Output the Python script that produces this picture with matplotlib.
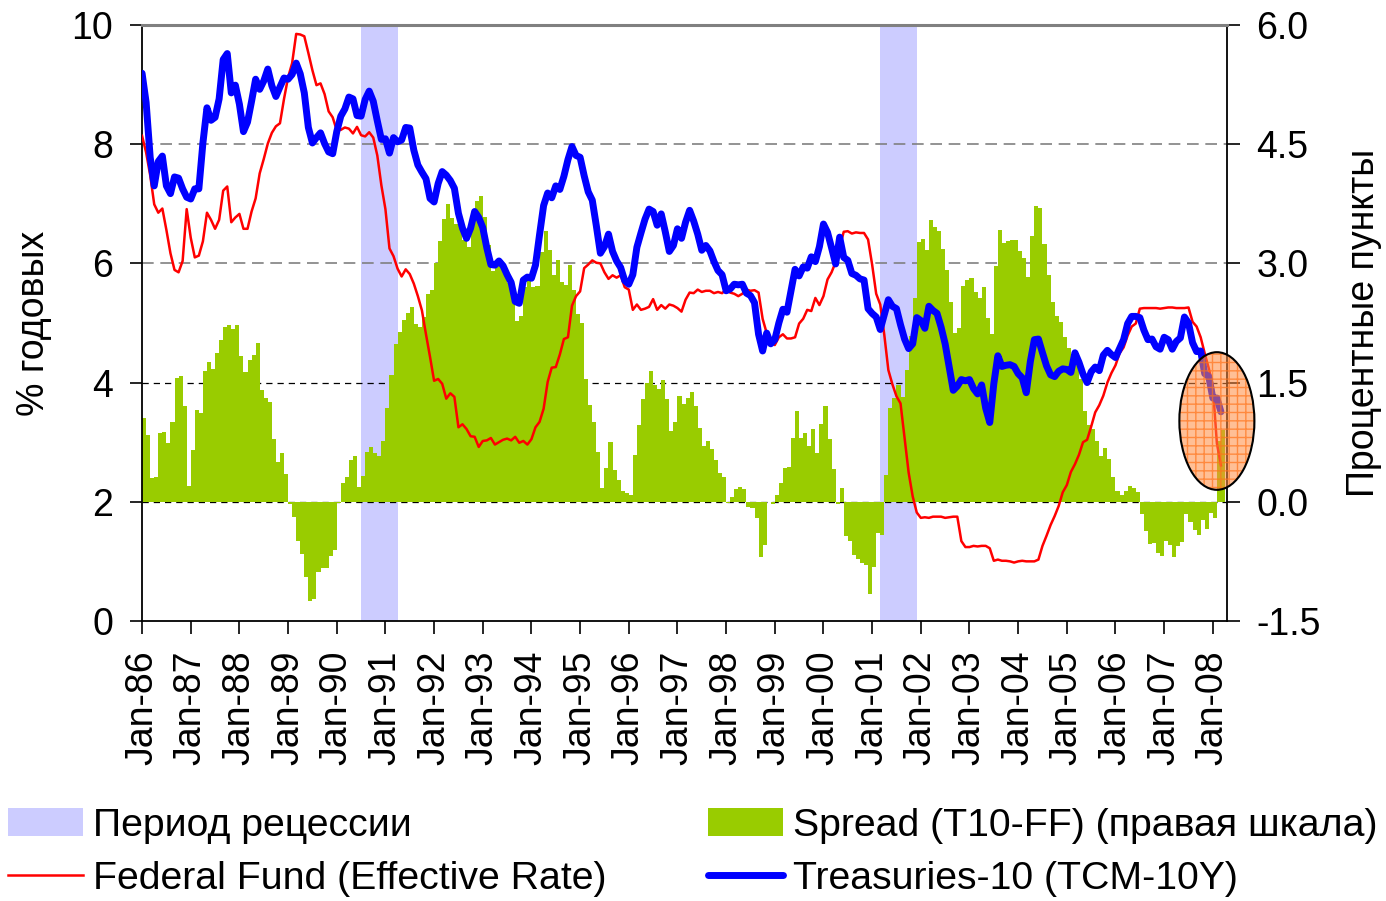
import numpy as np
import matplotlib.pyplot as plt
from matplotlib.patches import Ellipse, Patch
from matplotlib.lines import Line2D

plt.rcParams['font.family'] = ['Liberation Sans', 'DejaVu Sans']

# monthly data, Jan-1986 .. Mar-2008
fed_funds = [
    8.14, 7.86, 7.48, 6.99, 6.85, 6.92, 6.56, 6.17, 5.89, 5.85, 6.04, 6.91,
    6.43, 6.10, 6.13, 6.37, 6.85, 6.73, 6.58, 6.73, 7.22, 7.29, 6.69, 6.77,
    6.83, 6.58, 6.58, 6.87, 7.09, 7.51, 7.75, 8.01, 8.19, 8.30, 8.35, 8.76,
    9.12, 9.36, 9.85, 9.84, 9.81, 9.53, 9.24, 8.99, 9.02, 8.84, 8.55, 8.45,
    8.23, 8.24, 8.28, 8.26, 8.18, 8.29, 8.15, 8.13, 8.20, 8.11, 7.81, 7.31,
    6.91, 6.25, 6.12, 5.91, 5.78, 5.90, 5.82, 5.66, 5.45, 5.21, 4.81, 4.43,
    4.03, 4.06, 3.98, 3.73, 3.82, 3.76, 3.25, 3.30, 3.22, 3.10, 3.09, 2.92,
    3.02, 3.03, 3.07, 2.96, 3.00, 3.04, 3.06, 3.03, 3.09, 2.99, 3.02, 2.96,
    3.05, 3.25, 3.34, 3.56, 4.01, 4.25, 4.26, 4.47, 4.73, 4.76, 5.29, 5.45,
    5.53, 5.92, 5.98, 6.05, 6.01, 6.00, 5.85, 5.74, 5.80, 5.76, 5.80, 5.60,
    5.56, 5.22, 5.31, 5.22, 5.24, 5.27, 5.40, 5.22, 5.30, 5.24, 5.31, 5.29,
    5.25, 5.19, 5.39, 5.51, 5.50, 5.56, 5.52, 5.54, 5.54, 5.50, 5.52, 5.50,
    5.56, 5.51, 5.49, 5.45, 5.49, 5.56, 5.54, 5.55, 5.51, 5.07, 4.83, 4.68,
    4.63, 4.76, 4.81, 4.74, 4.74, 4.76, 4.99, 5.07, 5.22, 5.20, 5.42, 5.30,
    5.45, 5.73, 5.85, 6.02, 6.27, 6.53, 6.54, 6.50, 6.52, 6.51, 6.51, 6.40,
    5.98, 5.49, 5.31, 4.80, 4.21, 3.97, 3.77, 3.65, 3.07, 2.49, 2.09, 1.82,
    1.73, 1.74, 1.73, 1.75, 1.75, 1.75, 1.73, 1.74, 1.75, 1.75, 1.34, 1.24,
    1.24, 1.26, 1.25, 1.26, 1.26, 1.22, 1.01, 1.03, 1.01, 1.01, 1.00, 0.98,
    1.00, 1.01, 1.00, 1.00, 1.00, 1.03, 1.26, 1.43, 1.61, 1.76, 1.93, 2.16,
    2.28, 2.50, 2.63, 2.79, 3.00, 3.04, 3.26, 3.50, 3.62, 3.78, 4.00, 4.16,
    4.29, 4.49, 4.59, 4.79, 4.94, 4.99, 5.24, 5.25, 5.25, 5.25, 5.25, 5.24,
    5.25, 5.26, 5.26, 5.25, 5.25, 5.25, 5.26, 5.02, 4.94, 4.76, 4.49, 4.24,
    3.94, 2.98, 2.61,
]

treasury10 = [
    9.19, 8.70, 7.78, 7.30, 7.71, 7.80, 7.30, 7.17, 7.45, 7.43, 7.25, 7.11,
    7.08, 7.25, 7.25, 8.02, 8.61, 8.40, 8.45, 8.76, 9.42, 9.52, 8.86, 8.99,
    8.67, 8.21, 8.37, 8.72, 9.09, 8.92, 9.06, 9.26, 8.98, 8.80, 8.96, 9.11,
    9.09, 9.17, 9.36, 9.18, 8.86, 8.28, 8.02, 8.11, 8.19, 8.01, 7.87, 7.84,
    8.21, 8.47, 8.59, 8.79, 8.76, 8.48, 8.47, 8.75, 8.89, 8.72, 8.39, 8.08,
    8.09, 7.85, 8.11, 8.04, 8.07, 8.28, 8.27, 7.90, 7.65, 7.53, 7.42, 7.09,
    7.03, 7.34, 7.54, 7.48, 7.39, 7.26, 6.84, 6.59, 6.42, 6.59, 6.87, 6.77,
    6.60, 6.26, 5.98, 5.97, 6.04, 5.96, 5.81, 5.68, 5.36, 5.33, 5.72, 5.77,
    5.75, 5.97, 6.48, 6.97, 7.18, 7.10, 7.30, 7.24, 7.46, 7.74, 7.96, 7.81,
    7.78, 7.47, 7.20, 7.06, 6.63, 6.17, 6.28, 6.49, 6.20, 6.04, 5.93, 5.71,
    5.65, 5.81, 6.27, 6.51, 6.74, 6.91, 6.87, 6.64, 6.83, 6.53, 6.20, 6.30,
    6.58, 6.42, 6.69, 6.89, 6.71, 6.49, 6.22, 6.30, 6.21, 6.03, 5.88, 5.81,
    5.54, 5.57, 5.65, 5.64, 5.65, 5.50, 5.46, 5.34, 4.81, 4.53, 4.83, 4.65,
    4.72, 5.00, 5.23, 5.18, 5.54, 5.90, 5.79, 5.94, 5.92, 6.11, 6.03, 6.28,
    6.66, 6.52, 6.26, 5.99, 6.44, 6.10, 6.05, 5.83, 5.80, 5.74, 5.72, 5.24,
    5.16, 5.10, 4.89, 5.14, 5.39, 5.28, 5.24, 4.97, 4.73, 4.57, 4.65, 5.09,
    5.04, 4.91, 5.28, 5.21, 5.16, 4.93, 4.65, 4.26, 3.87, 3.94, 4.05, 4.03,
    4.05, 3.90, 3.81, 3.96, 3.57, 3.33, 3.98, 4.45, 4.27, 4.29, 4.30, 4.27,
    4.15, 4.08, 3.83, 4.35, 4.72, 4.73, 4.50, 4.28, 4.13, 4.10, 4.19, 4.23,
    4.22, 4.17, 4.50, 4.34, 4.14, 4.00, 4.18, 4.26, 4.20, 4.46, 4.54, 4.47,
    4.42, 4.57, 4.72, 4.99, 5.11, 5.11, 5.09, 4.88, 4.72, 4.73, 4.60, 4.56,
    4.76, 4.72, 4.56, 4.69, 4.75, 5.10, 5.00, 4.67, 4.52, 4.53, 4.15, 4.10,
    3.74, 3.74, 3.51,
]

years = list(range(1986, 2009))
tick_labels = ["Jan-%02d" % (y % 100) for y in years]
recessions = [("1990-07", "1991-03"), ("2001-03", "2001-11")]
left_ticks = [0, 2, 4, 6, 8, 10]
right_ticks = [-1.5, 0.0, 1.5, 3.0, 4.5, 6.0]


def month_index(s):
    y, m = s.split("-")
    return (int(y) - 1986) * 12 + int(m) - 1


fed = np.array(fed_funds)
t10 = np.array(treasury10)
spread = t10 - fed
x = np.arange(len(fed))

FS = 27
fig = plt.figure(figsize=(13.86, 9.01), dpi=100)
ax = fig.add_axes([0.1025, 0.3108, 0.7828, 0.6615])
ax2 = ax.twinx()
ax.set_zorder(ax2.get_zorder() + 1)
ax.patch.set_visible(False)

# right scale: recession shading, grid, spread bars
for start, end in recessions:
    ax2.axvspan(month_index(start), month_index(end) + 1, color="#CCCCFF", lw=0, zorder=0)
for v in right_ticks[1:-1]:
    if v < 2:
        ax2.axhline(v, color="black", lw=0.9, ls=(0, (5, 4)), zorder=0.5)
    else:
        ax2.axhline(v, color="#808080", lw=1.2, ls=(0, (7, 4)), zorder=0.5)
ax2.bar(x, spread, width=1.0, align="edge", color="#99CC00", lw=0, zorder=1)
ax2.set_ylim(-1.5, 6.0)
ax2.set_yticks(right_ticks)
ax2.set_yticklabels(["%.1f" % v for v in right_ticks])
for s in ax2.spines.values():
    s.set_visible(False)

# left scale: rates
ax.plot(x, fed, color="#FF0000", lw=1.8, zorder=3)
ax.plot(x, t10, color="#0000FF", lw=5.0, zorder=4, solid_capstyle="round")

# highlight of the last months
n = len(fed)
ex, ey = n - 2, (t10[-4] + fed[-1]) / 2
ew, eh = 18.5, (t10[-4] - fed[-1]) * 1.55
ax.add_patch(Ellipse((ex, ey), ew, eh, facecolor=(1.0, 0.55, 0.25, 0.55),
                     edgecolor=(1.0, 0.45, 0.1, 0.7), lw=0, hatch="++",
                     zorder=5, clip_on=False))
ax.add_patch(Ellipse((ex, ey), ew, eh, fill=False, edgecolor="black", lw=1.5,
                     zorder=6, clip_on=False))

ax.set_xlim(0, 267.5)
ax.set_ylim(0, 10)
ax.set_yticks(left_ticks)
ax.set_xticks(np.arange(0, 12 * len(years) - 11, 12))
ax.set_xticklabels(tick_labels, rotation=90)

for s in ["left", "bottom", "right"]:
    ax.spines[s].set_color("black")
    ax.spines[s].set_linewidth(1.3)
ax.spines["top"].set_color("#808080")
ax.spines["top"].set_linewidth(2.2)

ax.tick_params(axis="both", direction="out", length=9, width=1.2, labelsize=FS, pad=12)
ax2.tick_params(axis="y", direction="out", length=9, width=1.2, labelsize=FS, pad=12)

ax.set_ylabel("% годовых", fontsize=FS, labelpad=14)
ax2.set_ylabel("Процентные пункты", fontsize=FS, labelpad=18)

handles = [
    Patch(color="#CCCCFF", lw=0),
    Line2D([], [], color="#FF0000", lw=1.8),
    Patch(color="#99CC00", lw=0),
    Line2D([], [], color="#0000FF", lw=5.0, solid_capstyle="round"),
]
labels = ["Период рецессии", "Federal Fund (Effective Rate)",
          "Spread (T10-FF) (правая шкала)", "Treasuries-10 (TCM-10Y)"]
fig.legend(handles, labels, ncol=2, loc="upper left",
           bbox_to_anchor=(8 / 1386, 1 - 808 / 901), frameon=False,
           fontsize=28.3, handlelength=1.9, handletextpad=0.25,
           columnspacing=2.6, labelspacing=0.42, borderpad=0, borderaxespad=0)

fig.savefig("out.png", dpi=100)
